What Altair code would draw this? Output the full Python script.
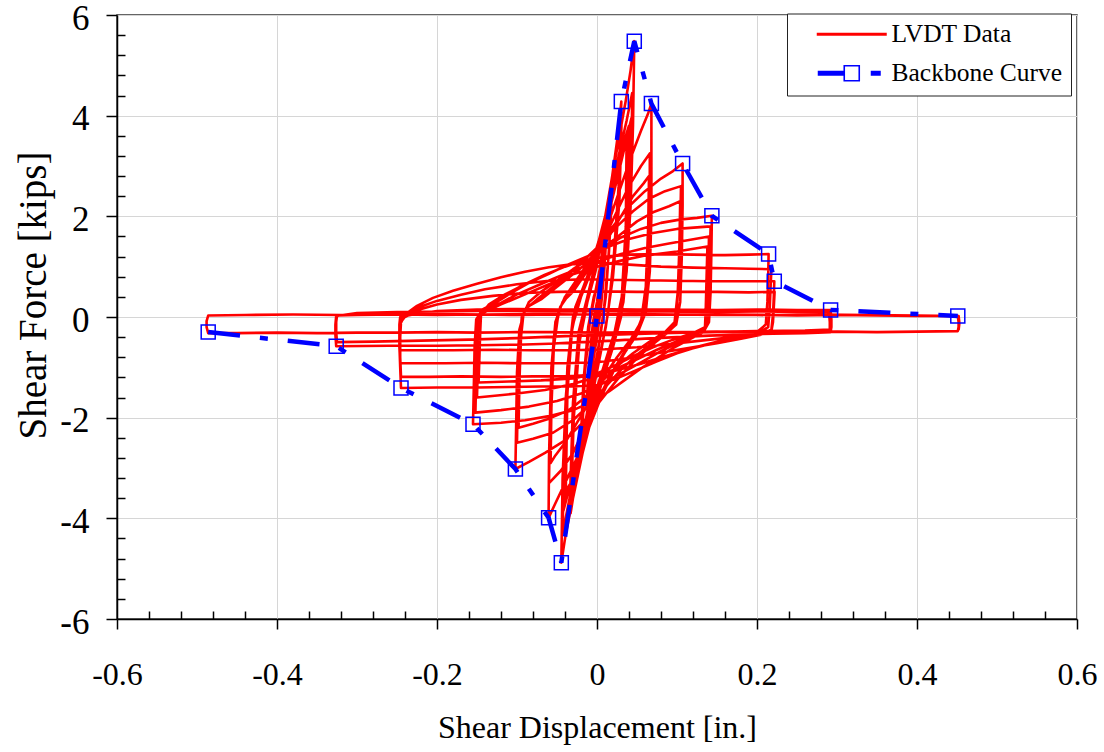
import altair as alt
import pandas as pd

# ---------------- data ----------------
x_major = [-0.6, -0.4, -0.2, 0, 0.2, 0.4, 0.6]
y_major = [-6, -4, -2, 0, 2, 4, 6]
x_minor = [-0.56, -0.52, -0.48, -0.44, -0.36, -0.32, -0.28, -0.24, -0.16, -0.12, -0.08, -0.04,
           0.04, 0.08, 0.12, 0.16, 0.24, 0.28, 0.32, 0.36, 0.44, 0.48, 0.52, 0.56]
y_minor = [-5.6, -5.2, -4.8, -4.4, -3.6, -3.2, -2.8, -2.4, -1.6, -1.2, -0.8, -0.4,
           0.4, 0.8, 1.2, 1.6, 2.4, 2.8, 3.2, 3.6, 4.4, 4.8, 5.2, 5.6]

series_names = ["LVDT Data", "Backbone Curve"]
series_colors = ["#ff0000", "#0000ff"]

# Backbone curve (open squares)
bb_x = [-0.486, -0.326, -0.245, -0.155, -0.102, -0.0605, -0.0446, 0.0, 0.0304, 0.0466,
        0.068, 0.107, 0.1436, 0.2145, 0.2216, 0.292, 0.451]
bb_y = [-0.30, -0.58, -1.41, -2.13, -3.02, -3.99, -4.88, 0.02, 4.28, 5.48,
        4.24, 3.05, 2.01, 1.25, 0.71, 0.14, 0.02]

# LVDT hysteresis record, cycle by cycle (displacement in., force kips)
c01 = [(0.0, 0.0), (0.002, 0.3), (0.004, 0.6), (0.006, 0.9), (0.005, 0.5), (0.002, 0.1), (-0.001, -0.3), (-0.004, -0.6), (-0.007, -0.95), (-0.005, -0.5), (-0.002, -0.1), (0.0, 0.1)]
c02 = [(0.003, 0.5), (0.007, 1.1), (0.012, 1.7), (0.009, 0.9), (0.005, 0.2), (0.0, -0.4), (-0.006, -1.0), (-0.013, -1.75), (-0.01, -0.9), (-0.005, -0.1), (0.0, 0.3)]
c03 = [(0.005, 0.9), (0.011, 1.7), (0.016, 2.3), (0.02, 2.9), (0.016, 1.6), (0.011, 0.4), (0.004, -0.4), (-0.004, -1.1), (-0.012, -1.9), (-0.021, -2.7), (-0.017, -1.3), (-0.011, -0.2), (-0.004, 0.4)]
c03b = [(0.006, 0.9), (0.013, 1.9), (0.019, 2.7), (0.015, 1.3), (0.009, 0.2), (0.002, -0.6), (-0.008, -1.5), (-0.019, -2.5), (-0.015, -1.1), (-0.009, -0.1), (-0.002, 0.5)]
c04 = [(0.004, 1.0), (0.012, 2.0), (0.019, 2.8), (0.026, 3.6), (0.0304, 4.28), (0.027, 2.6), (0.021, 1.2), (0.014, 0.1), (0.006, -0.6), (-0.004, -1.4), (-0.015, -2.3), (-0.026, -3.2), (-0.033, -3.9), (-0.029, -2.0), (-0.022, -0.5), (-0.012, 0.3)]
c05 = [(-0.002, 0.9), (0.008, 1.7), (0.017, 2.6), (0.025, 3.4), (0.031, 4.05), (0.028, 2.3), (0.02, 0.8), (0.011, -0.2), (0.0, -1.0), (-0.012, -1.9), (-0.024, -2.9), (-0.034, -3.7), (-0.03, -1.7), (-0.023, -0.3), (-0.012, 0.4)]
c06 = [(-0.003, 1.0), (0.008, 1.8), (0.018, 2.7), (0.028, 3.6), (0.036, 4.3), (0.042, 4.9), (0.0466, 5.48), (0.045, 3.8), (0.042, 2.2), (0.037, 0.9), (0.03, 0.0), (0.02, -0.6), (0.008, -1.2), (-0.005, -1.9), (-0.018, -2.7), (-0.03, -3.6), (-0.039, -4.3), (-0.0446, -4.88), (-0.043, -3.2), (-0.039, -1.6), (-0.033, -0.4), (-0.024, 0.3)]
c07 = [(-0.01, 0.9), (0.002, 1.5), (0.015, 2.3), (0.027, 3.2), (0.037, 3.9), (0.044, 4.45), (0.043, 2.8), (0.039, 1.4), (0.033, 0.3), (0.022, -0.4), (0.008, -1.0), (-0.006, -1.7), (-0.02, -2.6), (-0.033, -3.5), (-0.043, -4.3), (-0.041, -2.6), (-0.037, -1.0), (-0.03, 0.0), (-0.02, 0.4)]
c08 = [(-0.008, 0.9), (0.006, 1.5), (0.02, 2.4), (0.032, 3.2), (0.043, 3.95), (0.042, 2.4), (0.037, 1.0), (0.03, 0.1), (0.017, -0.6), (0.002, -1.3), (-0.013, -2.1), (-0.028, -3.0), (-0.042, -3.85), (-0.04, -2.2), (-0.035, -0.7), (-0.027, 0.2)]
c08b = [(-0.012, 0.8), (0.0, 1.3), (0.012, 2.0), (0.024, 2.8), (0.034, 3.5), (0.04, 3.8), (0.039, 2.0), (0.034, 0.6), (0.026, -0.2), (0.012, -0.9), (-0.002, -1.6), (-0.016, -2.4), (-0.03, -3.2), (-0.04, -3.6), (-0.038, -1.8), (-0.033, -0.4), (-0.024, 0.3)]
c08c = [(-0.01, 0.85), (0.004, 1.5), (0.016, 2.2), (0.028, 3.0), (0.037, 3.55), (0.036, 1.8), (0.031, 0.4), (0.022, -0.3), (0.008, -1.0), (-0.006, -1.8), (-0.02, -2.6), (-0.033, -3.3), (-0.039, -3.45), (-0.037, -1.5), (-0.031, -0.2), (-0.02, 0.4)]
c09 = [(-0.015, 0.6), (-0.005, 1.0), (0.005, 1.4), (0.017, 2.0), (0.03, 2.6), (0.043, 3.2), (0.055, 3.7), (0.064, 4.05), (0.068, 4.24), (0.068, 3.2), (0.068, 2.0), (0.066, 0.9), (0.061, 0.1), (0.05, -0.35), (0.035, -0.7), (0.02, -1.1), (0.005, -1.6), (-0.01, -2.2), (-0.025, -2.8), (-0.04, -3.3), (-0.052, -3.7), (-0.0605, -3.99), (-0.06, -2.8), (-0.058, -1.5), (-0.054, -0.4), (-0.046, 0.2)]
c10 = [(-0.035, 0.45), (-0.02, 0.8), (-0.005, 1.2), (0.01, 1.6), (0.025, 2.1), (0.04, 2.6), (0.055, 3.0), (0.066, 3.25), (0.066, 2.2), (0.064, 1.0), (0.059, 0.1), (0.048, -0.35), (0.032, -0.75), (0.015, -1.2), (0.0, -1.7), (-0.015, -2.2), (-0.03, -2.7), (-0.045, -3.05), (-0.06, -3.3), (-0.059, -2.2), (-0.057, -1.0), (-0.052, -0.1), (-0.043, 0.3)]
c11 = [(-0.03, 0.5), (-0.015, 0.85), (0.0, 1.2), (0.015, 1.6), (0.03, 2.0), (0.045, 2.4), (0.058, 2.65), (0.065, 2.8), (0.064, 1.8), (0.061, 0.6), (0.055, -0.1), (0.042, -0.45), (0.025, -0.8), (0.008, -1.2), (-0.008, -1.65), (-0.025, -2.1), (-0.04, -2.5), (-0.052, -2.75), (-0.058, -2.9), (-0.057, -1.8), (-0.054, -0.6), (-0.048, 0.1)]
c12 = [(-0.04, 0.4), (-0.025, 0.75), (-0.01, 1.1), (0.005, 1.45), (0.02, 1.8), (0.04, 2.2), (0.06, 2.5), (0.08, 2.75), (0.095, 2.9), (0.107, 3.05), (0.107, 2.2), (0.106, 1.2), (0.104, 0.3), (0.099, -0.15), (0.085, -0.35), (0.065, -0.6), (0.045, -0.9), (0.025, -1.25), (0.005, -1.65), (-0.015, -2.05), (-0.04, -2.45), (-0.065, -2.7), (-0.085, -2.88), (-0.102, -3.02), (-0.101, -2.1), (-0.1, -1.1), (-0.097, -0.25), (-0.09, 0.15)]
c13 = [(-0.075, 0.35), (-0.055, 0.6), (-0.035, 0.85), (-0.015, 1.15), (0.005, 1.45), (0.025, 1.8), (0.045, 2.1), (0.065, 2.35), (0.085, 2.5), (0.105, 2.6), (0.104, 1.7), (0.102, 0.7), (0.099, -0.05), (0.09, -0.3), (0.07, -0.5), (0.05, -0.75), (0.03, -1.05), (0.01, -1.4), (-0.01, -1.75), (-0.03, -2.05), (-0.055, -2.3), (-0.08, -2.42), (-0.1, -2.5), (-0.099, -1.6), (-0.097, -0.6), (-0.094, 0.0), (-0.087, 0.2)]
c14 = [(-0.07, 0.35), (-0.05, 0.6), (-0.03, 0.85), (-0.01, 1.1), (0.01, 1.4), (0.03, 1.65), (0.05, 1.9), (0.07, 2.08), (0.09, 2.2), (0.104, 2.3), (0.103, 1.4), (0.101, 0.5), (0.097, -0.1), (0.085, -0.3), (0.065, -0.5), (0.045, -0.72), (0.025, -0.98), (0.005, -1.3), (-0.015, -1.6), (-0.035, -1.85), (-0.06, -2.02), (-0.08, -2.12), (-0.098, -2.2), (-0.097, -1.3), (-0.095, -0.4), (-0.092, 0.05)]
c15 = [(-0.085, 0.3), (-0.07, 0.5), (-0.05, 0.72), (-0.03, 0.95), (-0.01, 1.15), (0.01, 1.38), (0.03, 1.58), (0.055, 1.75), (0.08, 1.87), (0.105, 1.94), (0.125, 1.97), (0.1436, 2.01), (0.143, 1.3), (0.142, 0.5), (0.14, -0.1), (0.133, -0.3), (0.115, -0.45), (0.095, -0.62), (0.075, -0.82), (0.055, -1.02), (0.035, -1.25), (0.015, -1.48), (-0.005, -1.68), (-0.03, -1.85), (-0.06, -1.97), (-0.09, -2.05), (-0.12, -2.1), (-0.155, -2.13), (-0.154, -1.4), (-0.153, -0.6), (-0.151, -0.05), (-0.143, 0.15)]
c16 = [(-0.125, 0.3), (-0.105, 0.5), (-0.085, 0.68), (-0.06, 0.86), (-0.035, 1.05), (-0.01, 1.22), (0.015, 1.4), (0.04, 1.55), (0.07, 1.67), (0.1, 1.75), (0.142, 1.8), (0.141, 1.1), (0.14, 0.4), (0.138, -0.15), (0.128, -0.32), (0.105, -0.48), (0.08, -0.68), (0.055, -0.9), (0.03, -1.12), (0.005, -1.34), (-0.02, -1.52), (-0.05, -1.67), (-0.085, -1.78), (-0.12, -1.85), (-0.152, -1.9), (-0.151, -1.2), (-0.15, -0.5), (-0.149, 0.0), (-0.14, 0.15)]
c17 = [(-0.12, 0.28), (-0.1, 0.45), (-0.075, 0.62), (-0.05, 0.79), (-0.025, 0.95), (0.0, 1.1), (0.03, 1.25), (0.06, 1.37), (0.09, 1.46), (0.115, 1.53), (0.14, 1.6), (0.139, 0.9), (0.138, 0.3), (0.137, -0.18), (0.125, -0.33), (0.1, -0.48), (0.075, -0.65), (0.05, -0.84), (0.025, -1.02), (0.0, -1.18), (-0.03, -1.33), (-0.065, -1.45), (-0.1, -1.52), (-0.15, -1.6), (-0.149, -1.0), (-0.148, -0.4), (-0.147, 0.05)]
c17b = [(-0.12, 0.25), (-0.09, 0.45), (-0.06, 0.65), (-0.03, 0.85), (0.0, 1.0), (0.03, 1.12), (0.06, 1.22), (0.1, 1.3), (0.138, 1.4), (0.137, 0.8), (0.136, 0.2), (0.135, -0.2), (0.12, -0.32), (0.095, -0.45), (0.07, -0.6), (0.045, -0.78), (0.02, -0.98), (0.0, -1.12), (-0.03, -1.22), (-0.07, -1.26), (-0.11, -1.28), (-0.148, -1.3), (-0.147, -0.8), (-0.146, -0.3), (-0.145, 0.05)]
c18 = [(-0.135, 0.25), (-0.115, 0.45), (-0.09, 0.65), (-0.065, 0.84), (-0.04, 1.0), (-0.015, 1.13), (0.01, 1.2), (0.04, 1.24), (0.08, 1.25), (0.12, 1.24), (0.16, 1.23), (0.19, 1.24), (0.2145, 1.25), (0.214, 0.8), (0.213, 0.3), (0.211, -0.15), (0.2, -0.3), (0.18, -0.38), (0.155, -0.47), (0.13, -0.57), (0.1, -0.72), (0.075, -0.88), (0.05, -1.05), (0.025, -1.22), (0.0, -1.35), (-0.03, -1.38), (-0.07, -1.38), (-0.11, -1.39), (-0.15, -1.4), (-0.2, -1.4), (-0.245, -1.41), (-0.246, -1.0), (-0.247, -0.55), (-0.246, -0.15), (-0.24, 0.05)]
c19 = [(-0.225, 0.22), (-0.205, 0.38), (-0.18, 0.52), (-0.15, 0.66), (-0.12, 0.79), (-0.09, 0.9), (-0.06, 0.99), (-0.03, 1.05), (0.0, 1.08), (0.04, 1.04), (0.08, 1.0), (0.12, 0.98), (0.16, 0.97), (0.19, 0.96), (0.218, 0.95), (0.217, 0.6), (0.216, 0.2), (0.214, -0.2), (0.2, -0.33), (0.175, -0.42), (0.145, -0.52), (0.115, -0.64), (0.085, -0.78), (0.055, -0.93), (0.025, -1.06), (0.0, -1.15), (-0.04, -1.18), (-0.08, -1.18), (-0.12, -1.19), (-0.17, -1.18), (-0.21, -1.19), (-0.245, -1.19), (-0.246, -0.8), (-0.246, -0.4), (-0.245, -0.1), (-0.238, 0.05)]
c20 = [(-0.222, 0.2), (-0.2, 0.32), (-0.17, 0.44), (-0.14, 0.55), (-0.1, 0.65), (-0.06, 0.72), (-0.02, 0.75), (0.02, 0.74), (0.06, 0.73), (0.1, 0.72), (0.14, 0.71), (0.18, 0.71), (0.2216, 0.71), (0.221, 0.4), (0.22, 0.05), (0.218, -0.25), (0.205, -0.35), (0.18, -0.43), (0.15, -0.52), (0.12, -0.6), (0.09, -0.68), (0.06, -0.76), (0.03, -0.84), (0.0, -0.9), (-0.04, -0.92), (-0.09, -0.92), (-0.14, -0.91), (-0.19, -0.92), (-0.246, -0.92), (-0.247, -0.6), (-0.247, -0.3), (-0.246, -0.05)]
c20b = [(-0.222, 0.15), (-0.2, 0.25), (-0.17, 0.34), (-0.13, 0.42), (-0.09, 0.48), (-0.05, 0.5), (0.0, 0.51), (0.05, 0.5), (0.1, 0.5), (0.15, 0.5), (0.19, 0.49), (0.222, 0.5), (0.221, 0.2), (0.22, -0.1), (0.218, -0.28), (0.2, -0.34), (0.17, -0.4), (0.13, -0.47), (0.09, -0.54), (0.05, -0.6), (0.01, -0.64), (-0.03, -0.66), (-0.08, -0.66), (-0.13, -0.65), (-0.18, -0.66), (-0.246, -0.66), (-0.247, -0.4), (-0.247, -0.15), (-0.246, 0.0)]
c21 = [(-0.23, 0.05), (-0.2, 0.12), (-0.15, 0.15), (-0.1, 0.16), (-0.05, 0.15), (0.0, 0.16), (0.05, 0.15), (0.1, 0.15), (0.15, 0.14), (0.2, 0.15), (0.25, 0.14), (0.292, 0.14), (0.293, -0.05), (0.293, -0.2), (0.292, -0.3), (0.26, -0.32), (0.22, -0.33), (0.18, -0.35), (0.14, -0.37), (0.1, -0.4), (0.06, -0.43), (0.02, -0.47), (-0.02, -0.5), (-0.06, -0.53), (-0.1, -0.55), (-0.15, -0.56), (-0.2, -0.57), (-0.26, -0.57), (-0.326, -0.58), (-0.327, -0.35), (-0.327, -0.15), (-0.326, 0.02)]
c22 = [(-0.3, 0.08), (-0.25, 0.1), (-0.2, 0.11), (-0.15, 0.12), (-0.1, 0.12), (-0.05, 0.11), (0.0, 0.12), (0.05, 0.11), (0.1, 0.11), (0.15, 0.1), (0.2, 0.11), (0.25, 0.1), (0.29, 0.1), (0.291, -0.1), (0.291, -0.25), (0.26, -0.27), (0.2, -0.28), (0.14, -0.3), (0.08, -0.32), (0.02, -0.35), (-0.04, -0.38), (-0.1, -0.42), (-0.16, -0.45), (-0.22, -0.47), (-0.28, -0.49), (-0.325, -0.5), (-0.326, -0.3), (-0.326, -0.1), (-0.325, 0.03)]
c23 = [(-0.3, 0.04), (-0.25, 0.05), (-0.2, 0.04), (-0.15, 0.05), (-0.1, 0.04), (-0.05, 0.05), (0.0, 0.05), (0.05, 0.04), (0.1, 0.05), (0.15, 0.04), (0.2, 0.04), (0.25, 0.03), (0.3, 0.04), (0.35, 0.03), (0.4, 0.02), (0.451, 0.02), (0.452, -0.1), (0.452, -0.2), (0.451, -0.28), (0.4, -0.29), (0.35, -0.3), (0.3, -0.29), (0.25, -0.3), (0.2, -0.3), (0.15, -0.29), (0.1, -0.3), (0.05, -0.3), (0.0, -0.31), (-0.05, -0.3), (-0.1, -0.3), (-0.15, -0.31), (-0.2, -0.3), (-0.25, -0.31), (-0.3, -0.31), (-0.35, -0.32), (-0.4, -0.31), (-0.45, -0.32), (-0.486, -0.32), (-0.488, -0.2), (-0.488, -0.08), (-0.486, 0.03), (-0.44, 0.04), (-0.38, 0.05), (-0.32, 0.04), (-0.26, 0.05), (-0.2, 0.06), (-0.14, 0.05), (-0.08, 0.06), (-0.02, 0.05), (0.04, 0.06), (0.1, 0.05), (0.16, 0.05), (0.22, 0.04), (0.28, 0.05), (0.34, 0.04), (0.4, 0.03), (0.452, 0.02), (0.453, -0.12), (0.452, -0.26)]

lvdt_cycles = [c01, c02, c03, c03b, c04, c05, c06, c07, c08, c08b, c08c, c09, c10, c11, c12,
               c13, c14, c15, c16, c17, c17b, c18, c19, c20, c20b, c21, c22, c23]

# ---------------- tables ----------------
lvdt_pts = [p for c in lvdt_cycles for p in c]
red_df = pd.DataFrame({
    "x": [p[0] for p in lvdt_pts],
    "y": [p[1] for p in lvdt_pts],
    "i": list(range(len(lvdt_pts))),
    "series": series_names[0],
})
bb_df = pd.DataFrame({"x": bb_x, "y": bb_y, "i": list(range(len(bb_x))), "series": series_names[1]})

FONT = "Liberation Serif"
xscale = alt.Scale(domain=[-0.6, 0.6], nice=False, zero=False)
yscale = alt.Scale(domain=[-6, 6], nice=False, zero=False)
cscale = alt.Scale(domain=series_names, range=series_colors)

LVDT_PATH = "M-3.5,0H3.5"
BB_PATH = ("M-3.4,-0.16H-0.75M-3.4,0H-0.75M-3.4,0.16H-0.75"
           "M-0.75,-0.75H0.75V0.75H-0.75Z"
           "M1.9,-0.16H2.9M1.9,0H2.9M1.9,0.16H2.9")

legend = alt.Legend(
    title=None, orient="none", legendX=670, legendY=-1.5,
    fillColor="white", strokeColor="#222222", padding=8,
    labelFont=FONT, labelFontSize=25.5, labelColor="black", labelLimit=400,
    labelOffset=27, symbolOffset=44, symbolSize=400, rowPadding=12,
    symbolType=alt.ExprRef(
        "datum.value === 'LVDT Data' ? '" + LVDT_PATH + "' : '" + BB_PATH + "'"),
    symbolStrokeWidth=alt.ExprRef("datum.value === 'LVDT Data' ? 3 : 1.6"),
)

x_axis_major = alt.Axis(
    values=x_major, labelExpr="'' + datum.value", orient="bottom",
    tickSize=10, tickWidth=1.5, tickColor="black",
    domainColor="black", domainWidth=1.5,
    grid=True, gridColor="#d6d6d6", gridWidth=1,
    labelFont=FONT, labelFontSize=32, labelColor="black", labelBaseline="alphabetic",
    labelPadding=55, labelFlush=False, labelOverlap=False,
    title="Shear Displacement [in.]", titleFont=FONT, titleFontSize=32, titleFontWeight="normal",
    titleColor="black", titleX=480, titleY=118, titleBaseline="alphabetic", titleAlign="center",
)
y_axis_major = alt.Axis(
    values=y_major, labelExpr="'' + datum.value", orient="left",
    tickSize=11, tickWidth=1.5, tickColor="black",
    domainColor="black", domainWidth=1.5,
    grid=True, gridColor="#d6d6d6", gridWidth=1,
    labelFont=FONT, labelFontSize=35, labelColor="black", labelPadding=17, labelOffset=3,
    labelFlush=False, labelOverlap=False,
    title="Shear Force [kips]", titleFont=FONT, titleFontSize=39, titleFontWeight="normal",
    titleColor="black", titleX=-72, titleY=280, titleAngle=270, titleBaseline="alphabetic",
    titleAlign="center",
)
x_axis_minor = alt.Axis(
    values=x_minor, orient="bottom", labels=False, domain=False, grid=False,
    tickSize=8, tickWidth=1.5, tickColor="black", offset=-8, title=None,
)
y_axis_minor = alt.Axis(
    values=y_minor, orient="left", labels=False, domain=False, grid=False,
    tickSize=8, tickWidth=1.5, tickColor="black", offset=-8, title=None,
)

red = alt.Chart(red_df).mark_line(strokeWidth=2.6, strokeJoin="round", clip=True).encode(
    x=alt.X("x:Q", scale=xscale, axis=x_axis_major),
    y=alt.Y("y:Q", scale=yscale, axis=y_axis_major),
    color=alt.Color("series:N", scale=cscale, legend=legend),
    order=alt.Order("i:Q"),
)
bb_line = alt.Chart(bb_df).mark_line(strokeWidth=4.5, strokeDash=[32, 20, 8, 20], clip=True,
                                     color=series_colors[1]).encode(
    x=alt.X("x:Q", scale=xscale, axis=x_axis_minor),
    y=alt.Y("y:Q", scale=yscale, axis=y_axis_minor),
    order=alt.Order("i:Q"),
)
bb_pts = alt.Chart(bb_df).mark_point(shape="square", filled=False, size=196, strokeWidth=1.5,
                                     opacity=1).encode(
    x=alt.X("x:Q", scale=xscale, axis=None),
    y=alt.Y("y:Q", scale=yscale, axis=None),
    color=alt.Color("series:N", scale=cscale, legend=legend),
)

chart = alt.layer(red, bb_line, bb_pts).resolve_axis(
    x="independent", y="independent"
).properties(
    width=960, height=604,
    autosize=alt.AutoSizeParams(type="none"),
    padding={"left": 117, "top": 15, "right": 27, "bottom": 133},
    background="white",
).configure_view(stroke="#333333", strokeWidth=1.5)

chart.save("out.html", embed_options={"renderer": "svg", "actions": False})
